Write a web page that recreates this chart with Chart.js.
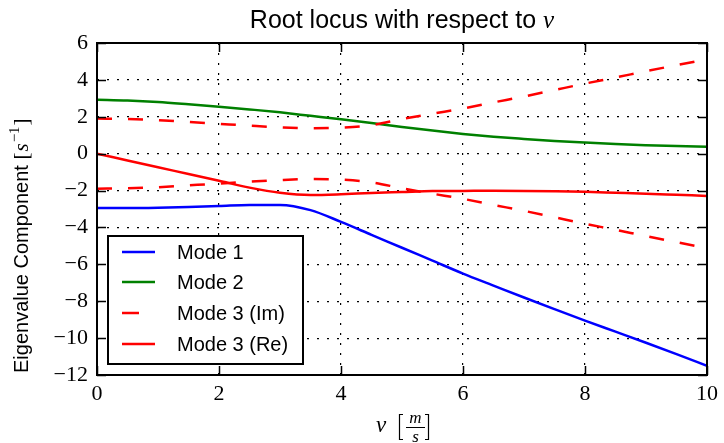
<!DOCTYPE html>
<html>
<head>
<meta charset="utf-8">
<script src="https://cdn.jsdelivr.net/npm/chart.js@4.4.1/dist/chart.umd.min.js"></script>
<style>
  html, body { margin: 0; padding: 0; background: #fff; }
  #wrap { width: 724px; height: 443px; position: relative; }
</style>
</head>
<body>
<div id="wrap"><canvas id="c" width="724" height="443"></canvas></div>
<script>
// ---- data ----
const xValues = [0, 0.5, 1, 1.5, 2, 2.5, 3, 3.5, 4, 4.5, 5, 5.5, 6, 6.5, 7, 7.5, 8, 8.5, 9, 9.5, 10];
const mode1 = [-2.95, -2.95, -2.93, -2.89, -2.84, -2.78, -2.78, -3.06, -3.7, -4.4, -5.1, -5.8, -6.5, -7.15, -7.8, -8.43, -9.05, -9.65, -10.25, -10.87, -11.5];
const mode2 = [2.92, 2.88, 2.8, 2.68, 2.55, 2.4, 2.24, 2.05, 1.86, 1.66, 1.45, 1.25, 1.07, 0.92, 0.8, 0.69, 0.6, 0.52, 0.46, 0.41, 0.37];
const mode3Im = [1.9, 1.88, 1.82, 1.72, 1.62, 1.52, 1.43, 1.38, 1.41, 1.55, 1.88, 2.17, 2.45, 2.78, 3.1, 3.45, 3.8, 4.13, 4.47, 4.8, 5.12];
const mode3Re = [0, -0.37, -0.74, -1.1, -1.47, -1.84, -2.12, -2.24, -2.2, -2.13, -2.08, -2.03, -2.02, -2.01, -2.02, -2.04, -2.07, -2.12, -2.17, -2.23, -2.29];
const seriesLabels = ['Mode 1', 'Mode 2', 'Mode 3 (Im)', 'Mode 3 (Re)'];
const xTicks = [0, 2, 4, 6, 8, 10];
const yTicks = [-12, -10, -8, -6, -4, -2, 0, 2, 4, 6];
const titleText = 'Root locus with respect to ';
const yLabelText = 'Eigenvalue Component ';

const BLUE = '#0000ff', GREEN = '#008000', RED = '#ff0000';
const DASH = [15, 16];

const pts = ys => xValues.map((x, i) => ({ x: x, y: ys[i] }));
const minus = v => String(v).replace('-', '\u2212');

const common = { pointRadius: 0, borderWidth: 2.5, fill: false, cubicInterpolationMode: 'monotone' };

const decor = {
  id: 'decor',
  afterDraw(chart) {
    const ctx = chart.ctx;
    const a = chart.chartArea;
    const xs = chart.scales.x, ys = chart.scales.y;
    ctx.save();
    // frame
    ctx.strokeStyle = '#000';
    ctx.lineWidth = 2;
    ctx.setLineDash([]);
    ctx.strokeRect(a.left, a.top, a.right - a.left, a.bottom - a.top);
    // inward ticks
    const TL = 9;
    ctx.lineWidth = 1.5;
    ctx.beginPath();
    xTicks.forEach(t => {
      const px = Math.round(xs.getPixelForValue(t)) + 0.5;
      ctx.moveTo(px, a.bottom); ctx.lineTo(px, a.bottom - TL);
      ctx.moveTo(px, a.top); ctx.lineTo(px, a.top + TL);
    });
    yTicks.forEach(t => {
      const py = Math.round(ys.getPixelForValue(t)) + 0.5;
      ctx.moveTo(a.left, py); ctx.lineTo(a.left + TL, py);
      ctx.moveTo(a.right, py); ctx.lineTo(a.right - TL, py);
    });
    ctx.stroke();

    // title
    ctx.fillStyle = '#000';
    ctx.textBaseline = 'alphabetic';
    ctx.textAlign = 'left';
    ctx.font = '25px "Liberation Sans", Arial, sans-serif';
    const tw = ctx.measureText(titleText).width;
    ctx.font = 'italic 25px "Liberation Serif", serif';
    const vw = ctx.measureText('v').width;
    let tx = (a.left + a.right) / 2 - (tw + vw) / 2;
    ctx.font = '25px "Liberation Sans", Arial, sans-serif';
    ctx.fillText(titleText, tx, 28);
    ctx.font = 'italic 25px "Liberation Serif", serif';
    ctx.fillText('v', tx + tw, 28);

    // x label: v [m/s]
    ctx.font = 'italic 23px "Liberation Serif", serif';
    ctx.fillText('v', 376, 432);
    ctx.lineWidth = 1.2;
    ctx.beginPath();
    ctx.moveTo(403, 414.5); ctx.lineTo(399.5, 414.5); ctx.lineTo(399.5, 439.5); ctx.lineTo(403, 439.5);
    ctx.moveTo(425, 414.5); ctx.lineTo(428.5, 414.5); ctx.lineTo(428.5, 439.5); ctx.lineTo(425, 439.5);
    ctx.moveTo(406, 427.5); ctx.lineTo(425, 427.5);
    ctx.stroke();
    ctx.font = 'italic 17px "Liberation Serif", serif';
    ctx.textAlign = 'center';
    ctx.fillText('m', 415.5, 423);
    ctx.fillText('s', 415.5, 442);

    // y label
    ctx.save();
    ctx.translate(28, 373);
    ctx.rotate(-Math.PI / 2);
    ctx.textAlign = 'left';
    ctx.font = '20px "Liberation Sans", Arial, sans-serif';
    ctx.fillText(yLabelText, 0, 0);
    let yx = ctx.measureText(yLabelText).width;
    ctx.font = '21px "Liberation Serif", serif';
    ctx.fillText('[', yx, 0); yx += ctx.measureText('[').width + 1;
    ctx.font = 'italic 21px "Liberation Serif", serif';
    ctx.fillText('s', yx, 0); yx += ctx.measureText('s').width + 1;
    ctx.font = '15px "Liberation Serif", serif';
    ctx.fillText('\u22121', yx, -9); yx += ctx.measureText('\u22121').width + 1;
    ctx.font = '21px "Liberation Serif", serif';
    ctx.fillText(']', yx, 0);
    ctx.restore();

    // legend
    const L = { x: 108, y: 236, w: 195, h: 128 };
    ctx.fillStyle = '#fff';
    ctx.fillRect(L.x, L.y, L.w, L.h);
    ctx.strokeStyle = '#000';
    ctx.lineWidth = 2;
    ctx.strokeRect(L.x, L.y, L.w, L.h);
    const rows = [252, 282, 313, 344];
    const legendItems = [
      { color: BLUE, dash: false },
      { color: GREEN, dash: false },
      { color: RED, dash: true },
      { color: RED, dash: false }
    ];
    ctx.textAlign = 'left';
    ctx.textBaseline = 'middle';
    ctx.font = '20px "Liberation Sans", Arial, sans-serif';
    seriesLabels.forEach((lab, i) => {
      const it = legendItems[i];
      ctx.strokeStyle = it.color;
      ctx.lineWidth = 2.5;
      ctx.beginPath();
      ctx.moveTo(122, rows[i]);
      ctx.lineTo(it.dash ? 139 : 155, rows[i]);
      ctx.stroke();
      ctx.fillStyle = '#000';
      ctx.fillText(lab, 177, rows[i] + 1);
    });
    ctx.restore();
  }
};

new Chart(document.getElementById('c'), {
  type: 'line',
  data: {
    datasets: [
      Object.assign({ label: seriesLabels[0], data: pts(mode1), borderColor: BLUE, order: 4 }, common),
      Object.assign({ label: seriesLabels[1], data: pts(mode2), borderColor: GREEN, order: 3 }, common),
      Object.assign({ label: seriesLabels[2], data: pts(mode3Im), borderColor: RED, borderDash: DASH, order: 2 }, common),
      Object.assign({ label: seriesLabels[2] + ' neg', data: pts(mode3Im.map(v => -v)), borderColor: RED, borderDash: DASH, order: 2 }, common),
      Object.assign({ label: seriesLabels[3], data: pts(mode3Re), borderColor: RED, order: 1 }, common)
    ]
  },
  options: {
    responsive: false,
    animation: false,
    layout: { padding: { top: 43, right: 13, left: 0, bottom: 0 } },
    plugins: { legend: { display: false }, tooltip: { enabled: false }, title: { display: false } },
    scales: {
      x: {
        type: 'linear', min: 0, max: 10,
        afterFit: s => { s.height = 68; },
        afterBuildTicks: s => { s.ticks = xTicks.map(v => ({ value: v })); },
        grid: { color: '#000', lineWidth: 1.2, drawTicks: false },
        border: { display: false, dash: [2, 8] },
        ticks: {
          padding: 6, maxRotation: 0, autoSkip: false, color: '#000',
          font: { family: '"Liberation Serif", serif', size: 22 },
          callback: v => minus(v)
        }
      },
      y: {
        type: 'linear', min: -12, max: 6,
        afterFit: s => { s.width = 97; },
        afterBuildTicks: s => { s.ticks = yTicks.map(v => ({ value: v })); },
        grid: { color: '#000', lineWidth: 1.2, drawTicks: false },
        border: { display: false, dash: [2, 8] },
        ticks: {
          padding: 9, autoSkip: false, color: '#000',
          font: { family: '"Liberation Serif", serif', size: 22 },
          callback: v => minus(v)
        }
      }
    }
  },
  plugins: [decor]
});
</script>
</body>
</html>
